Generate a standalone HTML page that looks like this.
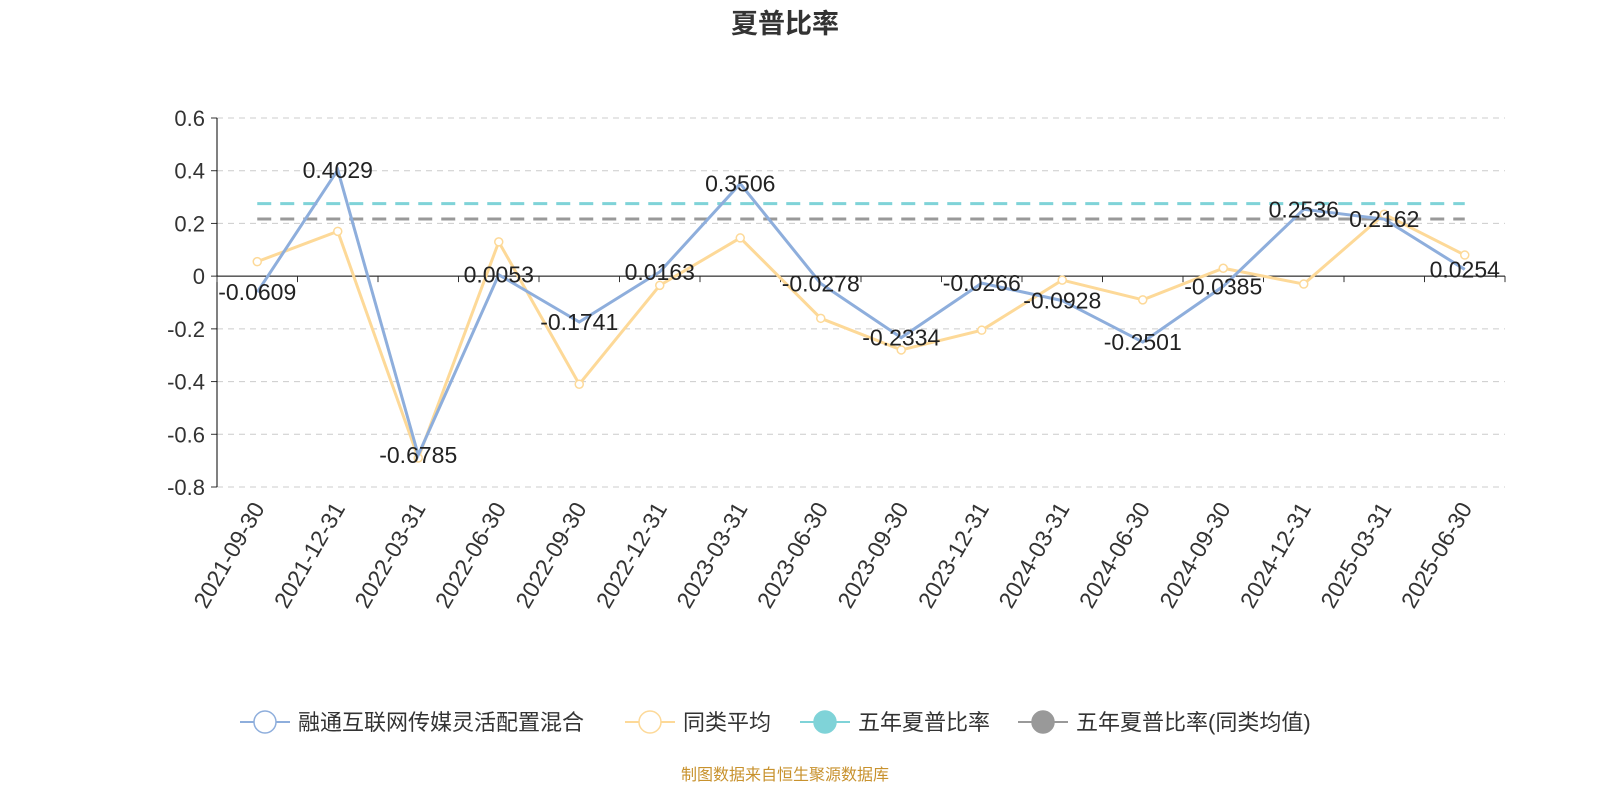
<!DOCTYPE html>
<html><head><meta charset="utf-8"><style>
body{margin:0;background:#fff;}
svg text{font-family:"Liberation Sans","Noto Sans CJK SC",sans-serif;}
</style></head><body>
<svg id="c" width="1600" height="800" xmlns="http://www.w3.org/2000/svg">
<text x="785" y="33" text-anchor="middle" font-size="27" font-weight="bold" fill="#333">夏普比率</text>
<g id="grid"></g><g id="axes"></g><g id="series"></g><g id="labels"></g>
<g id="legend"></g>
<text x="785" y="780" text-anchor="middle" font-size="16" fill="#c8922e">制图数据来自恒生聚源数据库</text>
</svg>
<script>
const categories=["2021-09-30","2021-12-31","2022-03-31","2022-06-30","2022-09-30","2022-12-31","2023-03-31","2023-06-30","2023-09-30","2023-12-31","2024-03-31","2024-06-30","2024-09-30","2024-12-31","2025-03-31","2025-06-30"];
const fundValues=[-0.0609,0.4029,-0.6785,0.0053,-0.1741,0.0163,0.3506,-0.0278,-0.2334,-0.0266,-0.0928,-0.2501,-0.0385,0.2536,0.2162,0.0254];
const peerValues=[0.055,0.17,-0.69,0.13,-0.41,-0.035,0.145,-0.16,-0.28,-0.205,-0.015,-0.09,0.03,-0.03,0.235,0.08];
const fiveYear=[0.275];
const fiveYearPeer=[0.217];
const yTicks=[0.6,0.4,0.2,0,-0.2,-0.4,-0.6,-0.8];
const L=217,R=1505,T=118,B=487,yMin=-0.8,yMax=0.6;
const ns="http://www.w3.org/2000/svg";
const bw=(R-L)/categories.length;
const x=i=>L+bw*(i+0.5);
const y=v=>B-(v-yMin)/(yMax-yMin)*(B-T);
function mk(tag,attrs,parent,txt){const e=document.createElementNS(ns,tag);for(const k in attrs)e.setAttribute(k,attrs[k]);if(txt!==undefined)e.textContent=txt;document.getElementById(parent).appendChild(e);return e;}
yTicks.forEach(t=>{
 if(t!==0){const g=mk('line',{x1:L,x2:R,y1:y(t),y2:y(t),stroke:'#ccc','stroke-dasharray':'6,5'},'grid');
 
 }
 const tk=mk('line',{x1:L-6,x2:L,y1:y(t),y2:y(t),stroke:'#333'},'axes');
 
 
 const tl=mk('text',{x:L-12,y:y(t)+8,'text-anchor':'end','font-size':22,fill:'#333'},'axes',String(t));
 
 
});
const ya=mk('line',{x1:L,x2:L,y1:T,y2:B,stroke:'#000'},'axes');


const xa=mk('line',{x1:L,x2:R,y1:y(0),y2:y(0),stroke:'#000'},'axes');


for(let i=0;i<=categories.length;i++){const t=mk('line',{x1:L+bw*i,x2:L+bw*i,y1:y(0),y2:y(0)+6,stroke:'#333'},'axes');

}
categories.forEach((c,i)=>{const t=mk('text',{x:x(i)+8,y:508,'text-anchor':'end','font-size':23,fill:'#333',transform:`rotate(-60 ${x(i)+8} 508)`},'axes',c);

});
const d1=mk('line',{x1:x(0),x2:x(categories.length-1),y1:y(fiveYear[0]),y2:y(fiveYear[0]),stroke:'#7fd3d8','stroke-width':3,'stroke-dasharray':'14,9'},'series');


const d2=mk('line',{x1:x(0),x2:x(categories.length-1),y1:y(fiveYearPeer[0]),y2:y(fiveYearPeer[0]),stroke:'#999','stroke-width':3,'stroke-dasharray':'14,9'},'series');


const pp=mk('polyline',{points:peerValues.map((v,i)=>x(i)+','+y(v)).join(' '),fill:'none',stroke:'#fdd998','stroke-width':3},'series');


peerValues.forEach((v,i)=>{const c=mk('circle',{cx:x(i),cy:y(v),r:4,fill:'#fff',stroke:'#fdd998','stroke-width':1.5},'series');

});
const fp=mk('polyline',{points:fundValues.map((v,i)=>x(i)+','+y(v)).join(' '),fill:'none',stroke:'#8eaedc','stroke-width':3},'series');


fundValues.forEach((v,i)=>{const t=mk('text',{x:x(i),y:y(v)+8,'text-anchor':'middle','font-size':23,fill:'#222'},'labels',v.toFixed(4));

});
const leg=[["融通互联网传媒灵活配置混合","#8eaedc",false,240],["同类平均","#fdd998",false,625],["五年夏普比率","#7fd3d8",true,800],["五年夏普比率(同类均值)","#999",true,1018]];
leg.forEach(([n,c,f,lx])=>{
 const l=mk('line',{x1:lx,x2:lx+50,y1:722,y2:722,stroke:c,'stroke-width':2},'legend');
 
 
 const ci=mk('circle',{cx:lx+25,cy:722,r:11,fill:f?c:'#fff',stroke:c,'stroke-width':1.5},'legend');
 
 
 const t=mk('text',{x:lx+58,y:730,'font-size':22,fill:'#333'},'legend',n);
 
 
});
</script>
</body></html>
